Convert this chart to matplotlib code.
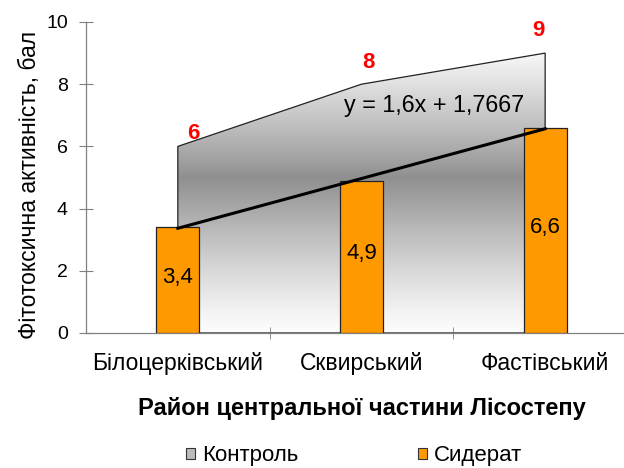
import matplotlib
matplotlib.use("Agg")
import matplotlib.pyplot as plt
import numpy as np
from matplotlib.patches import Polygon, Patch

plt.rcParams['font.family'] = ['Liberation Sans', 'DejaVu Sans']

categories = ['Білоцерківський', 'Сквирський', 'Фастівський']
control = [6, 8, 9]
siderat = [3.4, 4.9, 6.6]
control_labels = ['6', '8', '9']
siderat_labels = ['3,4', '4,9', '6,6']
trend_slope = 1.6
trend_intercept = 1.7667
trend_text = 'y = 1,6x + 1,7667'
yticks = [0, 2, 4, 6, 8, 10]

fig = plt.figure(figsize=(6.24, 4.68), dpi=100)
ax = fig.add_axes([0.1378, 0.2885, 0.8830, 0.6645])

x = np.arange(len(categories))

# gradient area (Контроль)
verts = [(x[0], 0)] + list(zip(x, control)) + [(x[-1], 0)]
poly = Polygon(verts, closed=True, facecolor='none', edgecolor='#222222', lw=0.9, zorder=2)
ax.add_patch(poly)
ys = np.linspace(0, 10, 400)
def shade(v):
    lo = 0.56
    mid = 5.0
    if v <= mid:
        t = v / mid
        return 0.99 - (0.99 - lo) * t ** 1.2
    else:
        t = (v - mid) / (9.2 - mid)
        return lo + (0.99 - lo) * min(t, 1) ** 0.9
g = np.array([shade(v) for v in ys])
G = np.repeat(g[:, None], 2, axis=1)
img = np.dstack([G, G, G])
im = ax.imshow(img, extent=[x[0], x[-1], 0, 10], origin='lower', aspect='auto', zorder=1)
clip = Polygon(verts, closed=True, transform=ax.transData, facecolor='none', edgecolor='none')
ax.add_patch(clip)
im.set_clip_path(clip)

# bars (Сидерат)
ax.bar(x, siderat, width=0.235, color='#FF9900', edgecolor='#222222', lw=0.9, zorder=3)

# trend line
xt = np.array([x[0], x[-1]])
ax.plot(xt, trend_slope * (xt + 1) + trend_intercept, color='black', lw=2.2, zorder=4)
ax.text(0.904, 7.33, trend_text, fontsize=16.8, ha='left', va='center', zorder=5)

# labels
offsets = [(15, 13), (7, 22), (-7, 23)]
for xi, v, lab, off in zip(x, control, control_labels, offsets):
    ax.annotate(lab, (xi, v), xytext=off, textcoords='offset pixels',
                ha='center', va='center', color='red', fontsize=16, fontweight='bold', zorder=5)
for xi, v, lab in zip(x, siderat, siderat_labels):
    ax.text(xi, v / 2 + 0.1, lab, ha='center', va='center', fontsize=16, zorder=5)

ax.set_xlim(-0.5, 2.5)
ax.set_ylim(0, 10)
ax.set_yticks(yticks)
ax.set_yticklabels([str(t) for t in yticks], fontsize=14)
ax.set_xticks(x)
ax.set_xticklabels(categories, fontsize=16.5)
ax.tick_params(axis='x', length=0, pad=14)
ax.set_xticks([0.5, 1.5], minor=True)
ax.tick_params(axis='x', which='minor', length=8, color='#808080', direction='inout')
ax.tick_params(axis='y', length=10, color='#808080', direction='inout', pad=8)
for s in ['top', 'right']:
    ax.spines[s].set_visible(False)
for s in ['left', 'bottom']:
    ax.spines[s].set_color('#808080')
    ax.spines[s].set_linewidth(0.9)

ax.set_ylabel('Фітотоксична активність, бал', fontsize=16.5)
ax.yaxis.set_label_coords(-0.082, 0.476)
fig.text(362 / 624, 1 - 408 / 468, 'Район центральної частини Лісостепу',
         ha='center', va='center', fontsize=17, fontweight='bold')

leg_items = [('Контроль', '#BBBBBB', 186), ('Сидерат', '#FF9900', 418)]
for name, col, px in leg_items:
    fig.legend([Patch(facecolor=col, edgecolor='#333333', lw=0.8)], [name],
               loc='center left', bbox_to_anchor=(px / 624, 1 - 456 / 468),
               frameon=False, fontsize=16, handlelength=0.42, handleheight=0.42,
               handletextpad=0.3, borderpad=0, borderaxespad=0)

fig.savefig('out.png', dpi=100)
